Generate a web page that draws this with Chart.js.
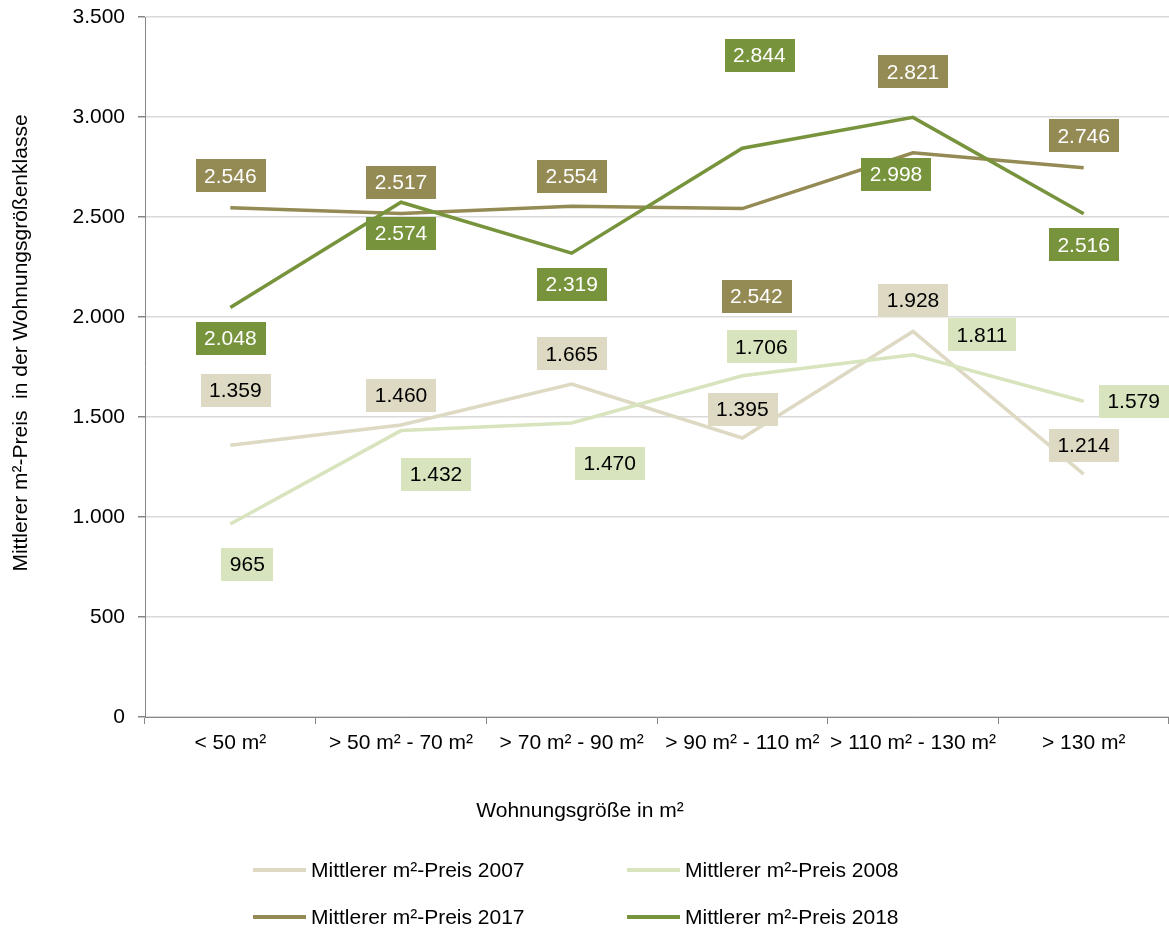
<!DOCTYPE html>
<html lang="de">
<head>
<meta charset="UTF-8">
<title>Mittlerer m²-Preis nach Wohnungsgröße</title>
<script src="https://cdn.jsdelivr.net/npm/chart.js@4.4.1/dist/chart.umd.min.js"></script>
<style>
  html, body { margin: 0; padding: 0; background: #fff; }
  #wrap { position: relative; width: 1169px; height: 933px; }
  #legend { position: absolute; left: 0; top: 0; width: 100%; height: 100%; pointer-events: none;
            font-family: "Liberation Sans", Arial, sans-serif; font-size: 21px; color: #000; }
  .item { position: absolute; display: flex; align-items: center; height: 24px; }
  .swatch { width: 53px; height: 4px; margin-right: 5px; }
</style>
</head>
<body>
<div id="wrap">
  <canvas id="chart" width="1169" height="933"></canvas>
  <div id="legend"></div>
</div>
<script>
// Wohnungsgrößenklassen
const categories = ['< 50 m²', '> 50 m² - 70 m²', '> 70 m² - 90 m²', '> 90 m² - 110 m²', '> 110 m² - 130 m²', '> 130 m²'];

// mittlere m²-Preise je Jahr
const preis2007 = [1359, 1460, 1665, 1395, 1928, 1214];
const preis2008 = [965, 1432, 1470, 1706, 1811, 1579];
const preis2017 = [2546, 2517, 2554, 2542, 2821, 2746];
const preis2018 = [2048, 2574, 2319, 2844, 2998, 2516];

const yTicks = [0, 500, 1000, 1500, 2000, 2500, 3000, 3500];

const xTitle = 'Wohnungsgröße in m²';
const yTitle = 'Mittlerer m²-Preis  in der Wohnungsgrößenklasse';

const fmt = v => v.toLocaleString('de-DE');
const FONT = '"Liberation Sans", Arial, sans-serif';

// Lage der Wertebeschriftungen relativ zum Punkt (dx, dy in px)
const labelShift = [
  [[5, -55], [0, -30], [0, -30], [0, -29], [0, -31], [0, -29]],
  [[17, 40], [35, 44], [38, 40], [19, -29], [69, -20], [50, 0]],
  [[0, -32], [0, -31], [0, -30], [14, 88], [0, -81], [0, -32]],
  [[0, 31], [0, 31], [0, 31], [17, -93], [-17, 57], [0, 31]]
];

const series = [
  { label: 'Mittlerer m²-Preis 2007', data: preis2007, color: '#ddd9c3', text: '#000' },
  { label: 'Mittlerer m²-Preis 2008', data: preis2008, color: '#d7e4bd', text: '#000' },
  { label: 'Mittlerer m²-Preis 2017', data: preis2017, color: '#948a54', text: '#fff' },
  { label: 'Mittlerer m²-Preis 2018', data: preis2018, color: '#77933c', text: '#fff' }
];

const valueLabels = {
  id: 'valueLabels',
  afterDatasetsDraw(chart) {
    const ctx = chart.ctx;
    ctx.save();
    ctx.font = '21px ' + FONT;
    ctx.textAlign = 'center';
    ctx.textBaseline = 'middle';
    series.forEach((s, di) => {
      const meta = chart.getDatasetMeta(di);
      meta.data.forEach((pt, i) => {
        const txt = fmt(s.data[i]);
        const [dx, dy] = labelShift[di][i];
        const cx = pt.x + dx, cy = pt.y + dy;
        const w = ctx.measureText(txt).width + 17, h = 33;
        ctx.fillStyle = s.color;
        ctx.fillRect(Math.round(cx - w / 2), Math.round(cy - h / 2), Math.round(w), h);
        ctx.fillStyle = s.text;
        ctx.fillText(txt, cx, cy + 1);
      });
    });
    ctx.restore();
  }
};

// Achsentitel frei positioniert (wie in der Excel-Vorlage nicht mittig zur Zeichenfläche)
const axisTitles = {
  id: 'axisTitles',
  afterDraw(chart) {
    const ctx = chart.ctx;
    ctx.save();
    ctx.font = '21px ' + FONT;
    ctx.fillStyle = '#000';
    ctx.textAlign = 'center';
    ctx.textBaseline = 'middle';
    ctx.fillText(xTitle, 580, 811);
    ctx.translate(21, 343);
    ctx.rotate(-Math.PI / 2);
    ctx.fillText(yTitle, 0, 0);
    ctx.restore();
  }
};

const chart = new Chart(document.getElementById('chart'), {
  type: 'line',
  data: {
    labels: categories,
    datasets: series.map((s, i) => ({
      label: s.label,
      data: s.data,
      borderColor: s.color,
      backgroundColor: s.color,
      borderWidth: 3.5,
      pointRadius: 0,
      tension: 0,
      order: 3 - i
    }))
  },
  options: {
    responsive: false,
    animation: false,
    layout: { padding: { top: 17, right: 0, left: 0, bottom: 0 } },
    plugins: { legend: { display: false }, tooltip: { enabled: false } },
    scales: {
      x: {
        offset: true,
        grid: { drawOnChartArea: false, offset: true, tickLength: 7, color: '#868686', tickColor: '#868686' },
        border: { color: '#868686', width: 1 },
        ticks: { color: '#000', font: { family: FONT, size: 21 }, padding: 7, maxRotation: 0, autoSkip: false },
        afterFit(scale) { scale.height = 216; }
      },
      y: {
        min: 0,
        max: 3500,
        afterBuildTicks(scale) { scale.ticks = yTicks.map(v => ({ value: v })); },
        grid: { color: '#d9d9d9', tickColor: '#868686', tickLength: 7, lineWidth: 1.5 },
        border: { color: '#868686', width: 1 },
        ticks: { color: '#000', font: { family: FONT, size: 21 }, padding: 13, callback: v => fmt(v) },
        afterFit(scale) {
          scale.width = 145;
          // Achsenrand nur über layout.padding steuern
          scale.paddingTop = 0;
          scale.paddingBottom = 0;
        }
      }
    }
  },
  plugins: [valueLabels, axisTitles]
});

// Legende in zwei Zeilen
const legend = document.getElementById('legend');
const legendPos = [[253, 870], [627, 870], [253, 917], [627, 917]];
series.forEach((s, i) => {
  const el = document.createElement('div');
  el.className = 'item';
  el.style.left = legendPos[i][0] + 'px';
  el.style.top = (legendPos[i][1] - 12) + 'px';
  el.innerHTML = '<span class="swatch" style="background:' + s.color + '"></span><span>' + s.label + '</span>';
  legend.appendChild(el);
});
</script>
</body>
</html>
